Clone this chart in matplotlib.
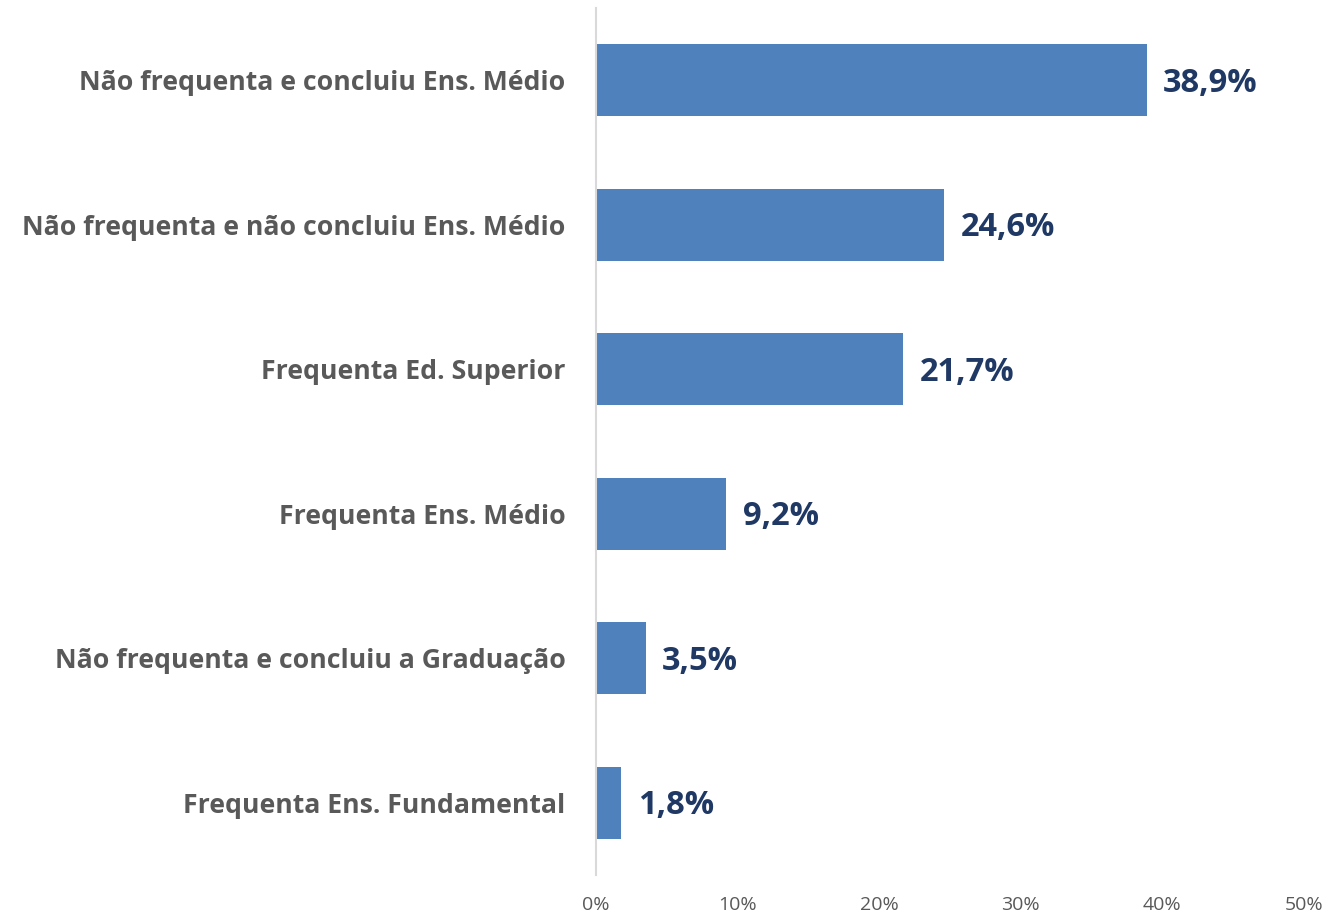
"""Horizontal bar chart: distribution by schooling situation."""

import matplotlib

matplotlib.use("Agg")
import matplotlib.pyplot as plt
from matplotlib.ticker import FuncFormatter

categories = [
    "Não frequenta e concluiu Ens. Médio",
    "Não frequenta e não concluiu Ens. Médio",
    "Frequenta Ed. Superior",
    "Frequenta Ens. Médio",
    "Não frequenta e concluiu a Graduação",
    "Frequenta Ens. Fundamental",
]
values = [38.9, 24.6, 21.7, 9.2, 3.5, 1.8]
x_ticks = [0, 10, 20, 30, 40, 50]

BAR_COLOR = "#4F81BD"
LABEL_COLOR = "#595959"
VALUE_COLOR = "#1F3864"

plt.rcParams["font.family"] = ["Open Sans", "DejaVu Sans"]

fig = plt.figure(figsize=(13.32, 9.18), dpi=100)
ax = fig.add_axes([596 / 1332, 1 - 875 / 918, (1304 - 596) / 1332, 867 / 918])

positions = list(range(len(categories)))[::-1]
ax.barh(positions, values, height=0.5, color=BAR_COLOR, zorder=2)

for pos, val in zip(positions, values):
    ax.text(val + 1.15, pos - 0.02, f"{val:.1f}%".replace(".", ","), va="center", ha="left",
            fontsize=23.5, fontweight="bold", color=VALUE_COLOR)

ax.set_xlim(0, 50)
ax.set_ylim(-0.5, len(categories) - 0.5)
ax.set_xticks(x_ticks)
ax.xaxis.set_major_formatter(FuncFormatter(lambda v, _: f"{v:.0f}%"))
ax.set_yticks(positions)
ax.set_yticklabels(categories, fontsize=19.2, fontweight="bold", color=LABEL_COLOR)
ax.tick_params(axis="y", length=0, pad=22)
ax.tick_params(axis="x", length=0, pad=15, labelsize=14, labelcolor=LABEL_COLOR)

for side in ("top", "right", "bottom"):
    ax.spines[side].set_visible(False)
ax.spines["left"].set_color("#D9D9D9")
ax.spines["left"].set_linewidth(1.5)

fig.savefig("out.png", dpi=100, facecolor="white")
